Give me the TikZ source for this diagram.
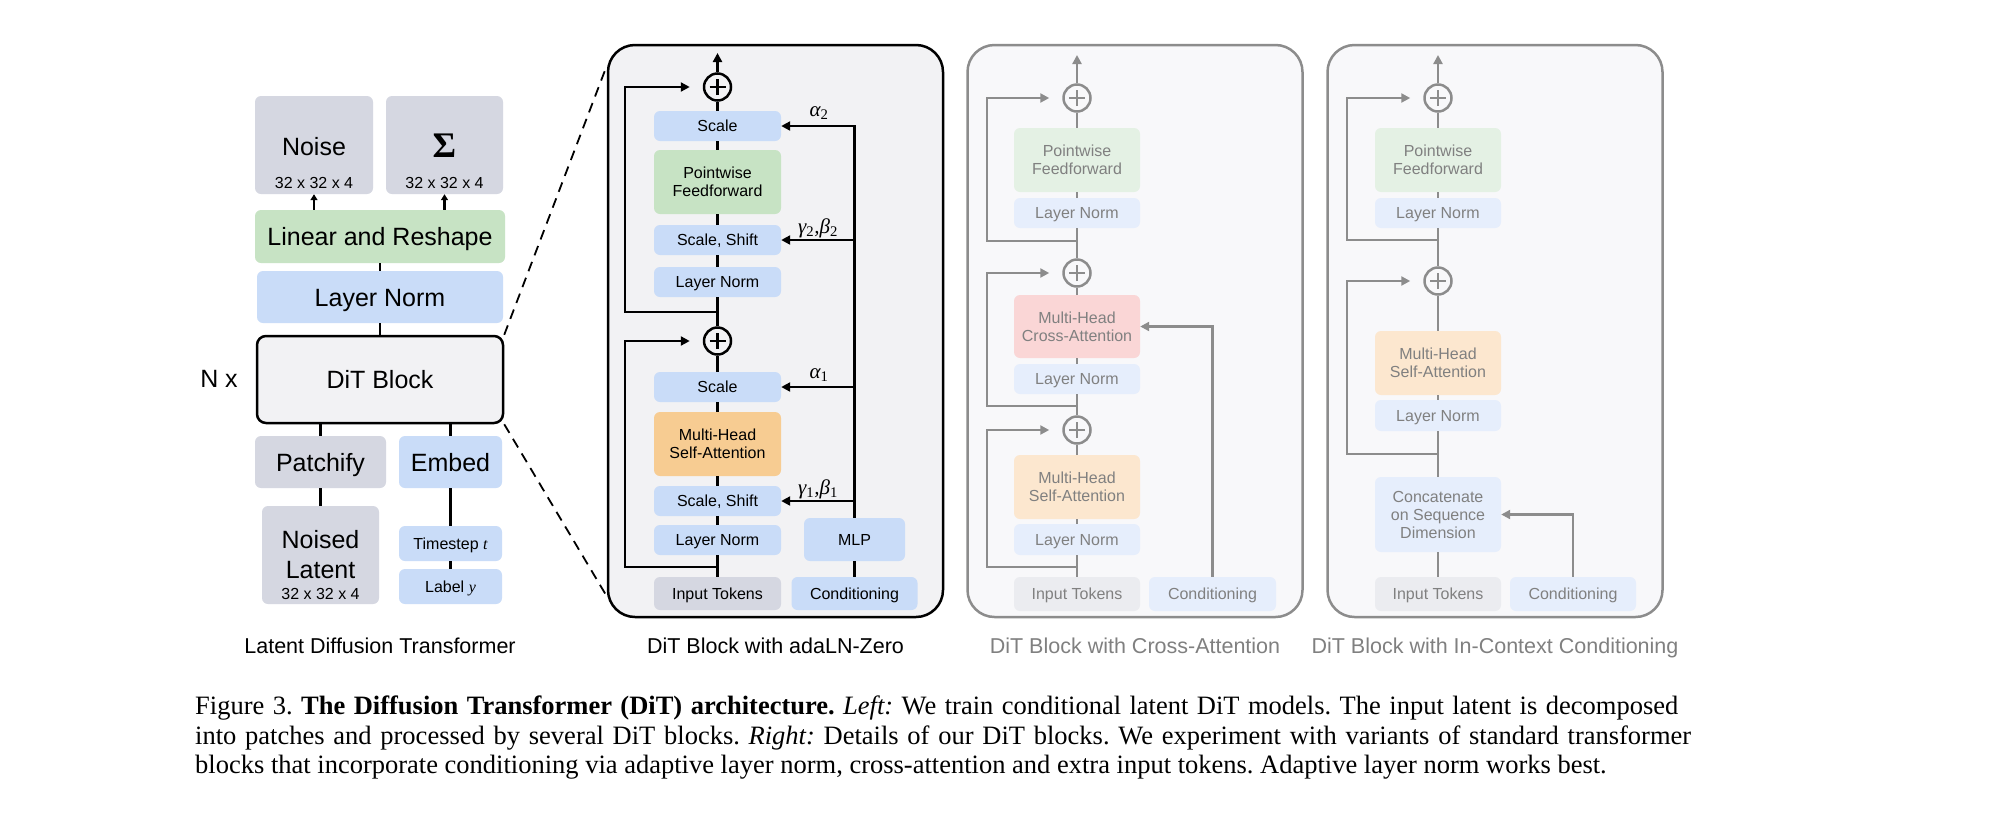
\documentclass[tikz,border=0pt]{standalone}
\usepackage{fontspec}
\setmainfont{Liberation Sans}
\newfontfamily\capfont{Liberation Serif}
\usetikzlibrary{arrows.meta}
\definecolor{cgray}{RGB}{213,215,225}
\definecolor{cblue}{RGB}{201,220,248}
\definecolor{cgreen}{RGB}{199,227,196}
\definecolor{corange}{RGB}{247,204,146}
\definecolor{cpanel}{RGB}{242,242,244}
\definecolor{fpanel}{RGB}{248,248,250}
\definecolor{fline}{RGB}{140,140,140}
\definecolor{ftext}{RGB}{128,128,128}
\definecolor{fblue}{RGB}{230,238,252}
\definecolor{fgreen}{RGB}{228,241,228}
\definecolor{fpink}{RGB}{250,214,214}
\definecolor{forange}{RGB}{252,231,207}
\definecolor{fgray}{RGB}{235,236,240}
\newcommand\szL{\fontsize{25}{30}\selectfont}
\newcommand\szS{\fontsize{16}{18}\selectfont}
\newcommand\szM{\fontsize{21.5}{26}\selectfont}
\newcommand\szG{\fontsize{21}{24}\selectfont\capfont\itshape}
\newcommand\szC{\fontsize{26.5}{30}\selectfont\capfont\frenchspacing}
\newcommand\szX{\fontsize{36}{38}\selectfont\capfont\bfseries}
\newcommand\vi[1]{{\capfont\itshape #1}}
\newcommand\sbs[1]{\textsubscript{\upshape #1}}
\begin{document}
\begin{tikzpicture}[x=1pt,y=-1pt,
  bx/.style 2 args={rectangle, rounded corners=6pt, inner sep=0pt, minimum width=#1, minimum height=#2, align=center},
  tOne/.style={font=\szS, text height=11.5pt, text depth=0pt},
  tTwo/.style={font=\szS},
  tBig/.style={font=\szL, text height=18pt, text depth=0pt},
  tMid/.style={font=\szM, text height=15.4pt, text depth=0pt},
  cnk/.style={line width=2.5pt, draw=black},
  fcn/.style={line width=2.5pt, draw=fline},
  arw/.style={-{Triangle[length=9pt,width=9pt]}},
  sarw/.style={-{Triangle[length=6pt,width=7pt]}},
  addc/.style={circle, draw=#1, line width=2.5pt, minimum size=27pt, inner sep=0pt,
    path picture={\draw[#1, line width=2.2pt] ([xshift=-8pt]path picture bounding box.center) -- ([xshift=8pt]path picture bounding box.center) ([yshift=-8pt]path picture bounding box.center) -- ([yshift=8pt]path picture bounding box.center);}},
  pnl/.style={rectangle, rounded corners=27pt, line width=2.5pt, minimum width=335pt, minimum height=572pt, inner sep=0pt},
  dsh/.style={draw=black, line width=1.8pt, dash pattern=on 10pt off 7pt}
]
\fill[white] (0,0) rectangle (2008,828);
\useasboundingbox (0,0) rectangle (2008,828);

% ---------------- Left: Latent Diffusion Transformer ----------------
\node[bx={118pt}{98pt}, fill=cgray] (noise) at (314,145) {};
\node[bx={117pt}{98pt}, fill=cgray] (sigma) at (444.5,145) {};
\node[tBig] (tnoise) at (314,146) {Noise};
\node[font=\szX, text height=24pt, text depth=0pt] (tsigma) at (444.5,145) {Σ};
\node[tOne] (tdim1) at (314,183) {32 x 32 x 4};
\node[tOne] (tdim2) at (444.5,183) {32 x 32 x 4};
\node[bx={250pt}{53pt}, fill=cgreen, tBig] (linear) at (380,236.5) {Linear and Reshape};
\node[bx={246pt}{52pt}, fill=cblue, tBig] (lnorm) at (380,297) {Layer Norm};
\node[bx={246pt}{87pt}, fill=cpanel, draw=black, line width=2.5pt, rounded corners=9pt, tBig] (dit) at (380,379.5) {DiT Block};
\node[tBig] (nx) at (219,378) {N x};
\node[bx={131pt}{52pt}, fill=cgray, tBig] (patch) at (320.5,462) {Patchify};
\node[bx={103pt}{52pt}, fill=cblue, tBig] (embed) at (450.5,462) {Embed};
\node[bx={117pt}{98pt}, fill=cgray] (noised) at (320.5,555) {};
\node[tBig] (tnoised) at (320.5,539) {Noised};
\node[tBig] (tlatent) at (320.5,569) {Latent};
\node[tOne] (tdim3) at (320.5,594) {32 x 32 x 4};
\node[bx={103pt}{35pt}, fill=cblue, tOne] (tstep) at (450.5,543.5) {Timestep \vi{t}};
\node[bx={103pt}{35pt}, fill=cblue, tOne] (tlabel) at (450.5,586.5) {Label \vi{y}};

\draw[cnk, sarw] (linear.north -| noise.south) -- (noise.south);
\draw[cnk, sarw] (linear.north -| sigma.south) -- (sigma.south);
\draw[cnk] (linear.south) -- (lnorm.north);
\draw[cnk] (lnorm.south) -- (dit.north);
\draw[cnk] (patch.north) -- (patch.north |- dit.south);
\draw[cnk] (embed.north) -- (embed.north |- dit.south);
\draw[cnk] (patch.south) -- (noised.north);
\draw[cnk] (embed.south) -- (tstep.north);
\draw[cnk] (tstep.south) -- (tlabel.north);
\node[tMid] (capL) at (380,646) {Latent Diffusion Transformer};

% ---------------- DiT Block with adaLN-Zero ----------------
\node[pnl, fill=cpanel, draw=black] (pA) at (775.5,331) {};
\draw[dsh] (dit.north east) -- ([yshift=-22pt]pA.north west);
\draw[dsh] (dit.south east) -- ([yshift=22pt]pA.south west);

\node[addc=black, fill=cpanel] (pa1) at (717.5,87) {};
\node[bx={127pt}{30pt}, fill=cblue, tOne] (sc2) at (717.5,126) {Scale};
\node[bx={127pt}{64pt}, fill=cgreen, tTwo] (ff) at (717.5,182) {Pointwise\\Feedforward};
\node[bx={127pt}{30pt}, fill=cblue, tOne] (ss2) at (717.5,240) {Scale, Shift};
\node[bx={127pt}{30pt}, fill=cblue, tOne] (ln2) at (717.5,282) {Layer Norm};
\node[addc=black, fill=cpanel] (pa2) at (717.5,341) {};
\node[bx={127pt}{30pt}, fill=cblue, tOne] (sc1) at (717.5,387) {Scale};
\node[bx={127pt}{64pt}, fill=corange, tTwo] (sa) at (717.5,444) {Multi-Head\\Self-Attention};
\node[bx={127pt}{30pt}, fill=cblue, tOne] (ss1) at (717.5,501) {Scale, Shift};
\node[bx={127pt}{30pt}, fill=cblue, tOne] (ln1) at (717.5,540) {Layer Norm};
\node[bx={127pt}{33pt}, fill=cgray, tOne] (inA) at (717.5,593.5) {Input Tokens};
\node[bx={101pt}{43pt}, fill=cblue, tOne] (mlp) at (854.5,539.5) {MLP};
\node[bx={126pt}{33pt}, fill=cblue, tOne] (condA) at (854.5,593.5) {Conditioning};
\coordinate (oA) at (717.5,53);
\coordinate (kA) at (625,0);
\coordinate (sA1) at (717.5,567);
\coordinate (sA2) at (717.5,312);

\draw[cnk] (inA.north) -- (ln1.south);
\draw[cnk] (ln1.north) -- (ss1.south);
\draw[cnk] (ss1.north) -- (sa.south);
\draw[cnk] (sa.north) -- (sc1.south);
\draw[cnk] (sc1.north) -- (pa2.south);
\draw[cnk] (pa2.north) -- (ln2.south);
\draw[cnk] (ln2.north) -- (ss2.south);
\draw[cnk] (ss2.north) -- (ff.south);
\draw[cnk] (ff.north) -- (sc2.south);
\draw[cnk] (sc2.north) -- (pa1.south);
\draw[cnk, arw] (pa1.north) -- (oA);
\draw[cnk, arw] (sA1) -- (sA1 -| kA) |- ([xshift=-13pt]pa2.west);
\draw[cnk, arw] (sA2) -- (sA2 -| kA) |- ([xshift=-13pt]pa1.west);
\draw[cnk] (condA.north) -- (mlp.south);
\draw[cnk, arw] (mlp.north) |- (sc2.east);
\draw[cnk, arw] (mlp.north |- ss2.east) -- (ss2.east);
\draw[cnk, arw] (mlp.north |- sc1.east) -- (sc1.east);
\draw[cnk, arw] (mlp.north |- ss1.east) -- (ss1.east);
\node[font=\szG] (la2) at (819,113) {α\sbs{2}};
\node[font=\szG] (lg2) at (818,228) {γ\sbs{2},β\sbs{2}};
\node[font=\szG] (la1) at (819,375) {α\sbs{1}};
\node[font=\szG] (lg1) at (818,489) {γ\sbs{1},β\sbs{1}};
\node[tMid] (capA) at (775.5,646) {DiT Block with adaLN-Zero};

% ---------------- DiT Block with Cross-Attention ----------------
\node[pnl, fill=fpanel, draw=fline] (pB) at (1135,331) {};
\node[addc=fline, fill=fpanel] (pb1) at (1077,98) {};
\node[bx={126pt}{64pt}, fill=fgreen, tTwo, text=ftext] (ffB) at (1077,160) {Pointwise\\Feedforward};
\node[bx={126pt}{30pt}, fill=fblue, tOne, text=ftext] (lnB3) at (1077,213) {Layer Norm};
\node[addc=fline, fill=fpanel] (pb2) at (1077,273) {};
\node[bx={126pt}{63pt}, fill=fpink, tTwo, text=ftext] (ca) at (1077,326.5) {Multi-Head\\Cross-Attention};
\node[bx={126pt}{30pt}, fill=fblue, tOne, text=ftext] (lnB2) at (1077,379) {Layer Norm};
\node[addc=fline, fill=fpanel] (pb3) at (1077,430) {};
\node[bx={126pt}{64pt}, fill=forange, tTwo, text=ftext] (saB) at (1077,487) {Multi-Head\\Self-Attention};
\node[bx={126pt}{31pt}, fill=fblue, tOne, text=ftext] (lnB1) at (1077,539.5) {Layer Norm};
\node[bx={126pt}{34pt}, fill=fgray, tOne, text=ftext] (inB) at (1077,594) {Input Tokens};
\node[bx={127pt}{34pt}, fill=fblue, tOne, text=ftext] (condB) at (1212.5,594) {Conditioning};
\coordinate (oB) at (1077,55);
\coordinate (kB) at (987,0);
\coordinate (sB1) at (1077,567);
\coordinate (sB2) at (1077,406);
\coordinate (sB3) at (1077,241);

\draw[fcn] (inB.north) -- (lnB1.south);
\draw[fcn] (lnB1.north) -- (saB.south);
\draw[fcn] (saB.north) -- (pb3.south);
\draw[fcn] (pb3.north) -- (lnB2.south);
\draw[fcn] (lnB2.north) -- (ca.south);
\draw[fcn] (ca.north) -- (pb2.south);
\draw[fcn] (pb2.north) -- (lnB3.south);
\draw[fcn] (lnB3.north) -- (ffB.south);
\draw[fcn] (ffB.north) -- (pb1.south);
\draw[fcn, arw] (pb1.north) -- (oB);
\draw[fcn, arw] (sB1) -- (sB1 -| kB) |- ([xshift=-13pt]pb3.west);
\draw[fcn, arw] (sB2) -- (sB2 -| kB) |- ([xshift=-13pt]pb2.west);
\draw[fcn, arw] (sB3) -- (sB3 -| kB) |- ([xshift=-13pt]pb1.west);
\draw[fcn, arw] (condB.north) |- (ca.east);
\node[tMid, text=ftext] (capB) at (1135,646) {DiT Block with Cross-Attention};

% ---------------- DiT Block with In-Context Conditioning ----------------
\node[pnl, fill=fpanel, draw=fline] (pC) at (1495,331) {};
\node[addc=fline, fill=fpanel] (pc1) at (1438,98) {};
\node[bx={126pt}{64pt}, fill=fgreen, tTwo, text=ftext] (ffC) at (1438,160) {Pointwise\\Feedforward};
\node[bx={126pt}{30pt}, fill=fblue, tOne, text=ftext] (lnC2) at (1438,213) {Layer Norm};
\node[addc=fline, fill=fpanel] (pc2) at (1438,281) {};
\node[bx={126pt}{64pt}, fill=forange, tTwo, text=ftext] (saC) at (1438,363) {Multi-Head\\Self-Attention};
\node[bx={126pt}{31pt}, fill=fblue, tOne, text=ftext] (lnC1) at (1438,415.5) {Layer Norm};
\node[bx={126pt}{75pt}, fill=fblue, tTwo, text=ftext] (cat) at (1438,514.5) {Concatenate\\on Sequence\\Dimension};
\node[bx={126pt}{34pt}, fill=fgray, tOne, text=ftext] (inC) at (1438,594) {Input Tokens};
\node[bx={126pt}{34pt}, fill=fblue, tOne, text=ftext] (condC) at (1573,594) {Conditioning};
\coordinate (oC) at (1438,55);
\coordinate (kC) at (1347,0);
\coordinate (sC1) at (1438,454);
\coordinate (sC2) at (1438,240);

\draw[fcn] (inC.north) -- (cat.south);
\draw[fcn] (cat.north) -- (lnC1.south);
\draw[fcn] (lnC1.north) -- (saC.south);
\draw[fcn] (saC.north) -- (pc2.south);
\draw[fcn] (pc2.north) -- (lnC2.south);
\draw[fcn] (lnC2.north) -- (ffC.south);
\draw[fcn] (ffC.north) -- (pc1.south);
\draw[fcn, arw] (pc1.north) -- (oC);
\draw[fcn, arw] (sC1) -- (sC1 -| kC) |- ([xshift=-13pt]pc2.west);
\draw[fcn, arw] (sC2) -- (sC2 -| kC) |- ([xshift=-13pt]pc1.west);
\draw[fcn, arw] (condC.north) |- (cat.east);
\node[tMid, text=ftext] (capC) at (1495,646) {DiT Block with In-Context Conditioning};

% ---------------- Caption ----------------
\node[anchor=base west, inner sep=0pt, font=\szC] (cap1) at (195,714) {\makebox[1483pt][s]{Figure 3. \textbf{The Diffusion Transformer (DiT) architecture.} \textit{Left:} We train conditional latent DiT models. The input latent is decomposed}};
\node[anchor=base west, inner sep=0pt, font=\szC] (cap2) at (195,744) {\makebox[1496pt][s]{into patches and processed by several DiT blocks. \textit{Right:} Details of our DiT blocks. We experiment with variants of standard transformer}};
\node[anchor=base west, inner sep=0pt, font=\szC] (cap3) at (195,773) {blocks that incorporate conditioning via adaptive layer norm, cross-attention and extra input tokens. Adaptive layer norm works best.};
\end{tikzpicture}
\end{document}
